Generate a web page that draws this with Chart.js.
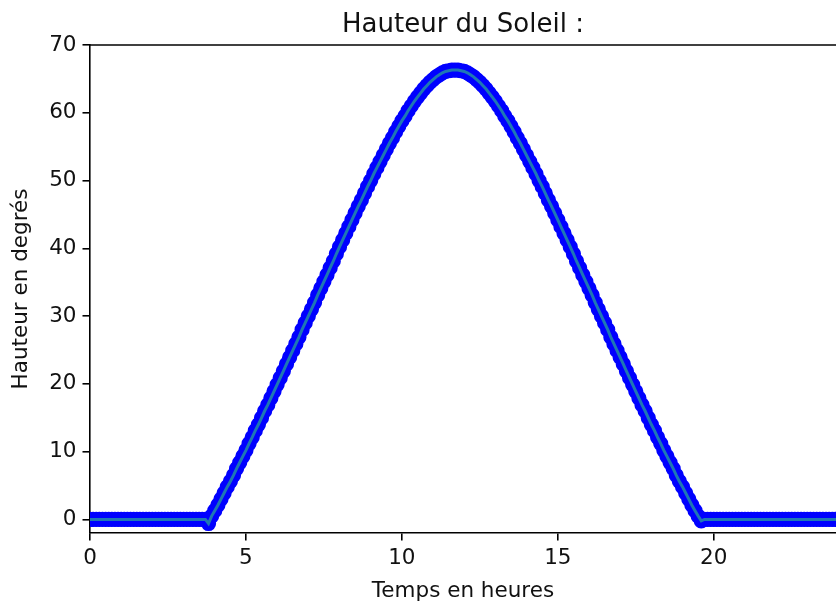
<!DOCTYPE html>
<html>
<head>
<meta charset="utf-8">
<script src="https://cdn.jsdelivr.net/npm/chart.js@4/dist/chart.umd.min.js"></script>
<style>
  html, body { margin: 0; padding: 0; background: #fff; overflow: hidden; }
  #c { display: block; }
</style>
</head>
<body>
<canvas id="c" width="836" height="605"></canvas>
<script>
// Time in hours (x axis)
const hours = [
  0.0,0.1,0.2,0.3,0.4,0.5,0.6,0.7,0.8,0.9,
  1.0,1.1,1.2,1.3,1.4,1.5,1.6,1.7,1.8,1.9,
  2.0,2.1,2.2,2.3,2.4,2.5,2.6,2.7,2.8,2.9,
  3.0,3.1,3.2,3.3,3.4,3.5,3.6,3.7,3.8,3.9,
  4.0,4.1,4.2,4.3,4.4,4.5,4.6,4.7,4.8,4.9,
  5.0,5.1,5.2,5.3,5.4,5.5,5.6,5.7,5.8,5.9,
  6.0,6.1,6.2,6.3,6.4,6.5,6.6,6.7,6.8,6.9,
  7.0,7.1,7.2,7.3,7.4,7.5,7.6,7.7,7.8,7.9,
  8.0,8.1,8.2,8.3,8.4,8.5,8.6,8.7,8.8,8.9,
  9.0,9.1,9.2,9.3,9.4,9.5,9.6,9.7,9.8,9.9,
  10.0,10.1,10.2,10.3,10.4,10.5,10.6,10.7,10.8,10.9,
  11.0,11.1,11.2,11.3,11.4,11.5,11.6,11.7,11.8,11.9,
  12.0,12.1,12.2,12.3,12.4,12.5,12.6,12.7,12.8,12.9,
  13.0,13.1,13.2,13.3,13.4,13.5,13.6,13.7,13.8,13.9,
  14.0,14.1,14.2,14.3,14.4,14.5,14.6,14.7,14.8,14.9,
  15.0,15.1,15.2,15.3,15.4,15.5,15.6,15.7,15.8,15.9,
  16.0,16.1,16.2,16.3,16.4,16.5,16.6,16.7,16.8,16.9,
  17.0,17.1,17.2,17.3,17.4,17.5,17.6,17.7,17.8,17.9,
  18.0,18.1,18.2,18.3,18.4,18.5,18.6,18.7,18.8,18.9,
  19.0,19.1,19.2,19.3,19.4,19.5,19.6,19.7,19.8,19.9,
  20.0,20.1,20.2,20.3,20.4,20.5,20.6,20.7,20.8,20.9,
  21.0,21.1,21.2,21.3,21.4,21.5,21.6,21.7,21.8,21.9,
  22.0,22.1,22.2,22.3,22.4,22.5,22.6,22.7,22.8,22.9,
  23.0,23.1,23.2,23.3,23.4,23.5,23.6,23.7,23.8,23.9,
  24.0
];

// Sun height in degrees
const sunHeight = [
  0,0,0,0,0,0,0,0,0,0,
  0,0,0,0,0,0,0,0,0,0,
  0,0,0,0,0,0,0,0,0,0,
  0,0,0,0,0,0,0,0,-0.6,0.5,
  1.3,2.1,3.0,3.9,4.8,5.6,6.5,7.5,8.4,9.3,
  10.2,11.2,12.1,13.1,14.0,15.0,16.0,16.9,17.9,18.9,
  19.9,20.9,21.9,22.9,23.9,24.9,25.9,26.9,28.0,29.0,
  30.0,31.0,32.0,33.1,34.1,35.1,36.1,37.1,38.1,39.2,
  40.2,41.2,42.2,43.2,44.2,45.2,46.2,47.1,48.1,49.1,
  50.0,51.0,51.9,52.8,53.7,54.6,55.5,56.3,57.2,58.0,
  58.8,59.5,60.3,61.0,61.7,62.3,62.9,63.5,64.0,64.5,
  64.9,65.3,65.6,65.9,66.1,66.2,66.3,66.3,66.3,66.2,
  66.1,65.9,65.6,65.3,64.9,64.5,64.0,63.5,62.9,62.3,
  61.7,61.0,60.3,59.5,58.8,58.0,57.2,56.3,55.5,54.6,
  53.7,52.8,51.9,51.0,50.0,49.1,48.1,47.1,46.2,45.2,
  44.2,43.2,42.2,41.2,40.2,39.2,38.1,37.1,36.1,35.1,
  34.1,33.1,32.0,31.0,30.0,29.0,28.0,26.9,25.9,24.9,
  23.9,22.9,21.9,20.9,19.9,18.9,17.9,16.9,16.0,15.0,
  14.0,13.1,12.1,11.2,10.2,9.3,8.4,7.5,6.5,5.6,
  4.8,3.9,3.0,2.1,1.3,0.5,-0.2,0,0,0,
  0,0,0,0,0,0,0,0,0,0,
  0,0,0,0,0,0,0,0,0,0,
  0,0,0,0,0,0,0,0,0,0,
  0,0,0,0,0,0,0,0,0,0,
  0
];

const xTicks = [0, 5, 10, 15, 20];
const yTicks = [0, 10, 20, 30, 40, 50, 60, 70];

const titleText = 'Hauteur du Soleil :';
const xLabel = 'Temps en heures';
const yLabel = 'Hauteur en degrés';

const points = hours.map((h, i) => ({ x: h, y: sunHeight[i] }));

const FONT = "'DejaVu Sans', sans-serif";
const INK = '#111';

const framePlugin = {
  id: 'frame',
  afterDatasetsDraw(chart) {
    const { ctx, chartArea: a } = chart;
    ctx.save();
    ctx.strokeStyle = '#000';
    ctx.lineWidth = 1.6;
    ctx.beginPath();
    ctx.moveTo(a.left, a.top);
    ctx.lineTo(a.right + 10, a.top);
    ctx.stroke();
    ctx.restore();
  }
};

new Chart(document.getElementById('c'), {
  type: 'scatter',
  data: {
    datasets: [
      {
        data: points,
        showLine: true,
        borderColor: '#1f77b4',
        borderWidth: 3,
        pointRadius: 0,
        tension: 0,
        clip: 0,
        order: 0
      },
      {
        data: points,
        showLine: false,
        pointRadius: 6.5,
        pointBorderWidth: 2.2,
        pointBackgroundColor: '#0000ff',
        pointBorderColor: '#0000ff',
        clip: 0,
        order: 1
      }
    ]
  },
  options: {
    responsive: false,
    maintainAspectRatio: false,
    devicePixelRatio: 1,
    animation: false,
    events: [],
    layout: { autoPadding: false, padding: { left: 0, top: 0, right: 0, bottom: 0 } },
    plugins: {
      legend: { display: false },
      tooltip: { enabled: false },
      title: {
        display: true,
        text: titleText,
        fullSize: false,
        color: INK,
        font: { family: FONT, size: 26, weight: 'normal' },
        padding: { top: 10, bottom: 3.8 }
      }
    },
    scales: {
      x: {
        type: 'linear',
        min: 0,
        max: 23.92,
        afterBuildTicks: (s) => { s.ticks = xTicks.map(v => ({ value: v })); },
        afterFit: (s) => { s.height = 72; s.paddingLeft = 0; s.paddingRight = 0; },
        ticks: {
          color: INK,
          font: { family: FONT, size: 21.5 },
          padding: 5,
          maxRotation: 0,
          autoSkip: false,
          callback: (v) => String(v)
        },
        grid: {
          display: true,
          drawOnChartArea: false,
          drawTicks: true,
          tickLength: 7.5,
          lineWidth: 1.6,
          color: '#000'
        },
        border: { display: true, color: '#000', width: 1.6 },
        title: {
          display: true,
          text: xLabel,
          color: INK,
          font: { family: FONT, size: 21.5 },
          padding: { top: 0, bottom: 1 }
        }
      },
      y: {
        type: 'linear',
        min: -2,
        max: 70,
        afterBuildTicks: (s) => { s.ticks = yTicks.map(v => ({ value: v })); },
        afterFit: (s) => { s.width = 90; },
        ticks: {
          color: INK,
          font: { family: FONT, size: 21.5 },
          padding: 6,
          autoSkip: false,
          callback: (v) => String(v)
        },
        grid: {
          display: true,
          drawOnChartArea: false,
          drawTicks: true,
          tickLength: 7.5,
          lineWidth: 1.6,
          color: '#000'
        },
        border: { display: true, color: '#000', width: 1.6 },
        title: {
          display: true,
          text: yLabel,
          color: INK,
          font: { family: FONT, size: 21.5 },
          padding: { top: 9, bottom: 0 }
        }
      }
    }
  },
  plugins: [framePlugin]
});
</script>
</body>
</html>
